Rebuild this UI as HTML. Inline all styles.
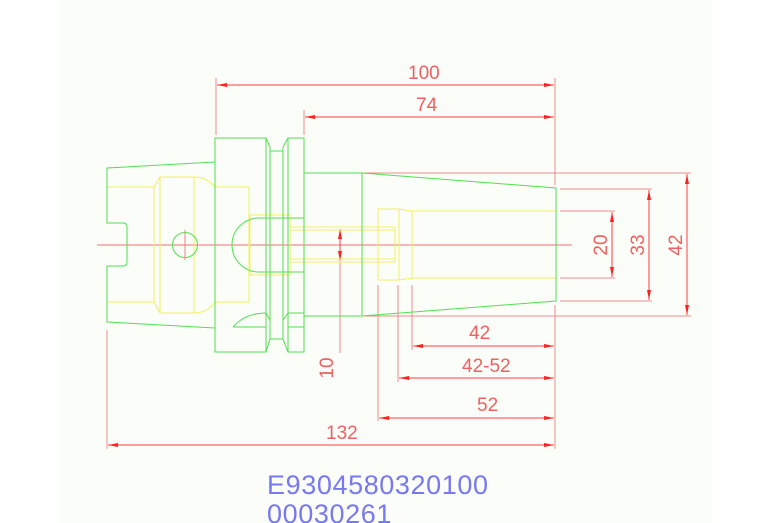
<!DOCTYPE html>
<html><head><meta charset="utf-8"><style>
html,body{margin:0;padding:0;background:#fff;}
svg{display:block;}
text{font-family:"Liberation Sans",sans-serif;}
</style></head><body>
<svg width="767" height="523" viewBox="0 0 767 523" xmlns="http://www.w3.org/2000/svg">
<rect x="58" y="0" width="653" height="523" fill="#fbfdf9"/>
<defs>
<marker id="a" viewBox="0 0 10 6" refX="10" refY="3" markerWidth="10" markerHeight="6" orient="auto-start-reverse" markerUnits="userSpaceOnUse"><path d="M0,1 L10,3 L0,5 Z" fill="#ff2020"/></marker>
</defs>
<g fill="none" stroke="#f08a8a" stroke-width="1">
<line x1="97" y1="245" x2="572" y2="245" stroke="#f07070"/>
<line x1="216" y1="78" x2="216" y2="135"/>
<line x1="555" y1="78" x2="555" y2="185"/>
<line x1="304" y1="110" x2="304" y2="135"/>
<line x1="555" y1="305" x2="555" y2="449"/>
<line x1="107" y1="330" x2="107" y2="449"/>
<line x1="378" y1="285" x2="378" y2="421"/>
<line x1="398" y1="285" x2="398" y2="382"/>
<line x1="412" y1="285" x2="412" y2="350"/>
<line x1="364" y1="173" x2="691" y2="173"/>
<line x1="560" y1="189" x2="652" y2="189"/>
<line x1="560" y1="211" x2="615" y2="211"/>
<line x1="560" y1="278" x2="615" y2="278"/>
<line x1="560" y1="301" x2="652" y2="301"/>
<line x1="364" y1="316" x2="691" y2="316"/>
<line x1="340" y1="262" x2="340" y2="353"/>
</g>
<g stroke="#ff4040" stroke-width="1" fill="none">
<line x1="217" y1="85" x2="554" y2="85" marker-start="url(#a)" marker-end="url(#a)"/>
<line x1="305" y1="117" x2="554" y2="117" marker-start="url(#a)" marker-end="url(#a)"/>
<line x1="413" y1="346" x2="554" y2="346" marker-start="url(#a)" marker-end="url(#a)"/>
<line x1="399" y1="378" x2="554" y2="378" marker-start="url(#a)" marker-end="url(#a)"/>
<line x1="379" y1="418" x2="554" y2="418" marker-start="url(#a)" marker-end="url(#a)"/>
<line x1="108" y1="445" x2="554" y2="445" marker-start="url(#a)" marker-end="url(#a)"/>
<line x1="612" y1="212" x2="612" y2="277" marker-start="url(#a)" marker-end="url(#a)"/>
<line x1="649" y1="190" x2="649" y2="300" marker-start="url(#a)" marker-end="url(#a)"/>
<line x1="687" y1="174" x2="687" y2="315" marker-start="url(#a)" marker-end="url(#a)"/>
<line x1="340" y1="229" x2="340" y2="261" marker-start="url(#a)" marker-end="url(#a)"/>
</g>
<g fill="#f06060" font-size="19">
<text x="408" y="79">100</text>
<text x="416" y="111">74</text>
<text x="469" y="339">42</text>
<text x="462" y="372">42-52</text>
<text x="477" y="411">52</text>
<text x="326" y="439">132</text>
<text transform="translate(607,245) rotate(-90)" text-anchor="middle">20</text>
<text transform="translate(644,245) rotate(-90)" text-anchor="middle">33</text>
<text transform="translate(682,245) rotate(-90)" text-anchor="middle">42</text>
<text transform="translate(333,368) rotate(-90)" text-anchor="middle">10</text>
</g>
<g stroke="#f0f060" stroke-width="1" fill="none">
<polyline points="107,187 154,187"/>
<polyline points="107,302 154,302"/>
<path d="M154,187 L160,177 L194,177 M154,302 L160,313 L194,313 M154,187 L154,302 M160,177 L160,313 M194,177 L194,313"/>
<path d="M194,177 Q207,177 215,187 M194,313 Q207,313 215,302"/>
<path d="M215,187 L249,187 L249,302 L215,302"/>
<rect x="250" y="215" width="40" height="60"/>
<path d="M290,227 L395,227 M290,230 L395,230 M290,259 L395,259 M290,262 L395,262 M395,227 L395,262"/>
<rect x="378" y="209" width="21" height="71"/>
<path d="M399,209 L412,211 L555,211 M399,280 L412,278 L555,278 M412,211 L412,278"/>
</g>
<g stroke="#50e050" stroke-width="1" fill="none">
<path d="M215,162 L107,168 L107,223 L123,223 Q127,223 127,227 L127,262 Q127,266 123,266 L107,266 L107,322 L215,328"/>
<path d="M215,138 L266,138 L270,147 L270,339 L266,352 L215,352 Z"/>
<path d="M266,138 L266,352"/>
<path d="M270,151 L283,151 M270,339 L283,339"/>
<path d="M283,147 L288,138 L304,138 L304,352 L288,352 L283,339 L283,147 M288,138 L288,352"/>
<circle cx="185" cy="245" r="12.5"/>
<line x1="185" y1="230" x2="185" y2="260" stroke="#f08080"/>
<path d="M259,218 A27,27 0 0 0 259,272"/>
<path d="M259,218 L304,218 M259,272 L304,272"/>
<path d="M233,327 Q245,313 266,313 M288,313 L304,313 M266,327 L233,327 M288,327 L304,327 M266,313 L270,320 M288,313 L283,320"/>
<path d="M304,173 L362,173 L362,316 L304,316"/>
<path d="M362,173 L556,188 L556,301 L362,316"/>
</g>
<g fill="#7878f0" font-size="27" letter-spacing="0.6">
<text x="267" y="494">E9304580320100</text>
<text x="267" y="523">00030261</text>
</g>
</svg>
</body></html>
